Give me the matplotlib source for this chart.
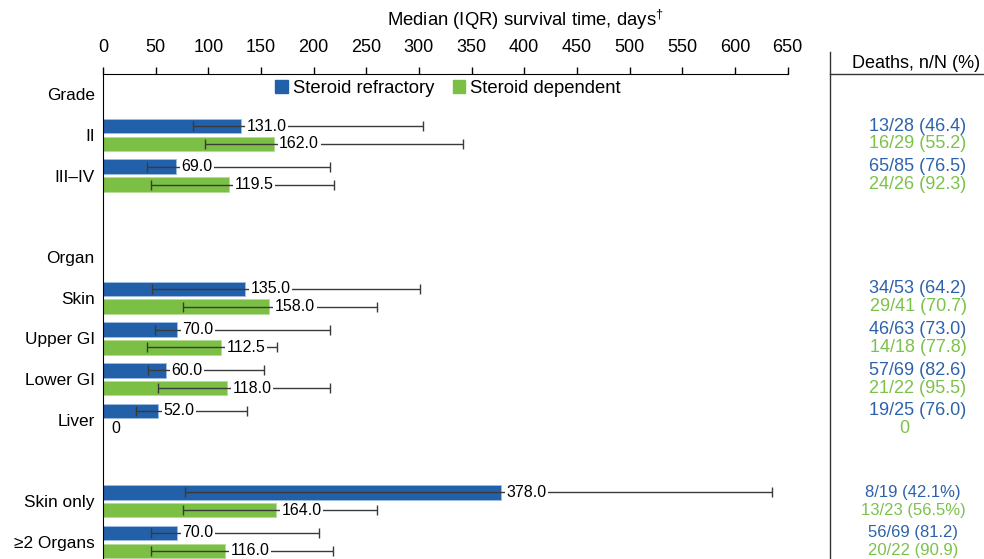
import numpy as np
import matplotlib
matplotlib.use("Agg")
import matplotlib.pyplot as plt
from matplotlib.lines import Line2D
from matplotlib.transforms import blended_transform_factory

plt.rcParams['font.family'] = ['Liberation Sans', 'DejaVu Sans']
plt.rcParams['mathtext.fontset'] = 'custom'
plt.rcParams['mathtext.rm'] = 'Liberation Sans'

# row labels on the y axis (blank = spacer row)
rows = ['Grade', 'II', 'III\u2013IV', '', 'Organ', 'Skin', 'Upper GI',
        'Lower GI', 'Liver', '', 'Skin only', '\u22652 Organs']

# data per subgroup
groups = ['II', 'III\u2013IV', 'Skin', 'Upper GI', 'Lower GI', 'Liver',
          'Skin only', '\u22652 Organs']
sr_median = [131.0, 69.0, 135.0, 70.0, 60.0, 52.0, 378.0, 70.0]
sr_q1 = [85, 42, 47, 49, 43, 31, 78, 46]
sr_q3 = [304, 216, 301, 216, 153, 137, 635, 205]
sd_median = [162.0, 119.5, 158.0, 112.5, 118.0, np.nan, 164.0, 116.0]
sd_q1 = [97, 46, 76, 41.5, 52, np.nan, 76, 46]
sd_q3 = [342, 219, 260, 165, 216, np.nan, 260, 218]
sr_deaths = ['13/28 (46.4)', '65/85 (76.5)', '34/53 (64.2)', '46/63 (73.0)',
             '57/69 (82.6)', '19/25 (76.0)', '8/19 (42.1%)', '56/69 (81.2)']
sd_deaths = ['16/29 (55.2)', '24/26 (92.3)', '29/41 (70.7)', '14/18 (77.8)',
             '21/22 (95.5)', '0', '13/23 (56.5%)', '20/22 (90.9)']

BLUE = '#2260a9'
GREEN = '#7cbf45'
BLUE_TXT = '#2d62ab'
GREEN_TXT = '#7cc24a'

W, H = 984, 559
fig = plt.figure(figsize=(W / 100, H / 100), dpi=100)
ax = fig.add_axes([103 / W, 0, 684.5 / W, 1 - 74 / H])

off = 0.22
bh = 0.36
ypos = np.array([rows.index(g) for g in groups], dtype=float)

for med, q1, q3, deaths, yy, col, tcol in [
        (sr_median, sr_q1, sr_q3, sr_deaths, ypos - off, BLUE, BLUE_TXT),
        (sd_median, sd_q1, sd_q3, sd_deaths, ypos + off, GREEN, GREEN_TXT)]:
    med = np.array(med, dtype=float)
    q1 = np.array(q1, dtype=float)
    q3 = np.array(q3, dtype=float)
    ok = ~np.isnan(med)
    ax.barh(yy[ok], med[ok], height=bh, color=col, edgecolor='#9cbde3' if col == BLUE else '#b5dc93',
            linewidth=0.6, zorder=2)
    ax.errorbar(med[ok], yy[ok], xerr=[med[ok] - q1[ok], q3[ok] - med[ok]], fmt='none',
                ecolor='#3a3a3a', elinewidth=1, capsize=3.5, capthick=1, zorder=3)
    for i in range(len(med)):
        if ok[i]:
            ax.annotate(f'{med[i]:.1f}', (med[i], yy[i]), xytext=(4, 0), textcoords='offset points',
                        ha='left', va='center', fontsize=11.5, zorder=4,
                        bbox=dict(facecolor='white', edgecolor='none', pad=1.2))
        else:
            ax.annotate('0', (0, yy[i]), xytext=(6, 0), textcoords='offset points',
                        ha='left', va='center', fontsize=11.5, zorder=4)

    # deaths column on the right
    tr = blended_transform_factory(fig.transFigure, ax.transData)
    for i, s in enumerate(deaths):
        if s == '0':
            ax.text(904.5 / W, yy[i], s, transform=tr, ha='center', va='center',
                    fontsize=13, color=tcol, clip_on=False)
        elif groups[i] in ('Skin only', '\u22652 Organs'):
            ax.text(913 / W, yy[i], s, transform=tr, ha='center', va='center',
                    fontsize=12, color=tcol, clip_on=False)
        else:
            ax.text(966.5 / W, yy[i], s, transform=tr, ha='right', va='center',
                    fontsize=13, color=tcol, clip_on=False)

ax.set_xlim(0, 650)
ax.set_ylim(len(rows) - 1 + 0.42, -0.5)
ax.xaxis.tick_top()
ax.set_xticks(np.arange(0, 651, 50))
ax.tick_params(axis='x', direction='out', length=5, width=1, pad=8, labelsize=13)
ax.set_yticks(range(len(rows)))
ax.set_yticklabels(rows, fontsize=12.4)
ax.tick_params(axis='y', length=0, pad=6)
ax.spines['right'].set_visible(False)
ax.spines['bottom'].set_visible(False)

ax.legend(handles=[plt.Rectangle((0, 0), 1, 1, color=BLUE), plt.Rectangle((0, 0), 1, 1, color=GREEN)],
          labels=['Steroid refractory', 'Steroid dependent'], ncol=2, frameon=False,
          loc='center left', bbox_to_anchor=(0.252, 0.97), borderpad=0, borderaxespad=0,
          handlelength=0.65, handleheight=0.65, handletextpad=0.3, columnspacing=1.0,
          fontsize=13.3)

fig.text(525 / W, 1 - 20 / H, r'Median (IQR) survival time, days$^{\dagger}$',
         ha='center', va='center', fontsize=13.3)

# right-hand deaths column frame
fig.add_artist(Line2D([830 / W, 830 / W], [0, 1 - 52 / H], transform=fig.transFigure,
                      color='#333333', lw=1))
fig.add_artist(Line2D([830 / W, 1], [1 - 73.5 / H, 1 - 73.5 / H], transform=fig.transFigure,
                      color='#333333', lw=1))
fig.text(916 / W, 1 - 63 / H, 'Deaths, n/N (%)', ha='center', va='center', fontsize=13)

fig.savefig('out.png', dpi=100)
